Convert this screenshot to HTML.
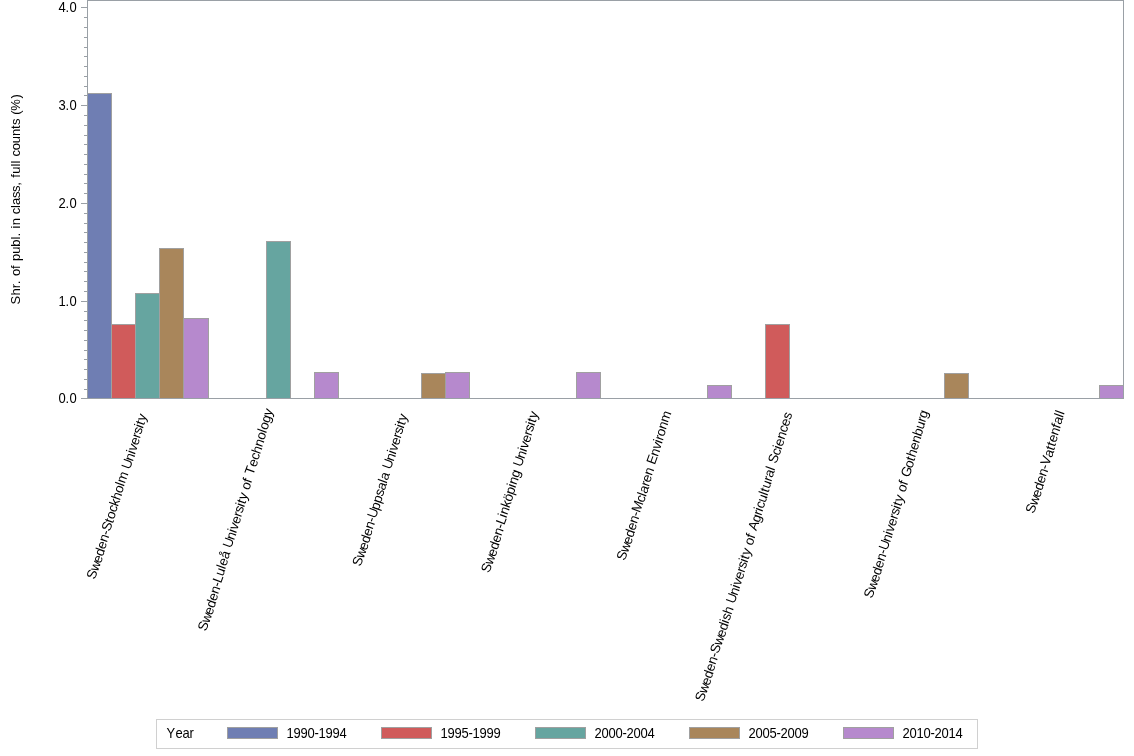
<!DOCTYPE html>
<html><head><meta charset="utf-8"><style>
html,body{margin:0;padding:0;background:#fff;width:1134px;height:756px;overflow:hidden;position:relative}
svg text{font-family:"Liberation Sans",sans-serif;font-size:13px;fill:#000;font-kerning:none}
</style></head><body>
<svg width="1134" height="756" viewBox="0 0 1134 756" style="position:absolute;left:0;top:0;will-change:transform"><rect x="87" y="93" width="25" height="306" fill="#6f7eb3"/><rect x="87" y="93" width="25" height="1" fill="#a0a0a0"/><rect x="87" y="93" width="1" height="306" fill="#a0a0a0"/><rect x="111" y="93" width="1" height="306" fill="#a0a0a0"/><rect x="111" y="324" width="25" height="75" fill="#d05b5b"/><rect x="111" y="324" width="25" height="1" fill="#a0a0a0"/><rect x="111" y="324" width="1" height="75" fill="#a0a0a0"/><rect x="135" y="324" width="1" height="75" fill="#a0a0a0"/><rect x="135" y="293" width="25" height="106" fill="#66a5a0"/><rect x="135" y="293" width="25" height="1" fill="#a0a0a0"/><rect x="135" y="293" width="1" height="106" fill="#a0a0a0"/><rect x="159" y="293" width="1" height="106" fill="#a0a0a0"/><rect x="159" y="248" width="25" height="151" fill="#a9865b"/><rect x="159" y="248" width="25" height="1" fill="#a0a0a0"/><rect x="159" y="248" width="1" height="151" fill="#a0a0a0"/><rect x="183" y="248" width="1" height="151" fill="#a0a0a0"/><rect x="183" y="318" width="26" height="81" fill="#b689cd"/><rect x="183" y="318" width="26" height="1" fill="#a0a0a0"/><rect x="183" y="318" width="1" height="81" fill="#a0a0a0"/><rect x="208" y="318" width="1" height="81" fill="#a0a0a0"/><rect x="266" y="241" width="25" height="158" fill="#66a5a0"/><rect x="266" y="241" width="25" height="1" fill="#a0a0a0"/><rect x="266" y="241" width="1" height="158" fill="#a0a0a0"/><rect x="290" y="241" width="1" height="158" fill="#a0a0a0"/><rect x="314" y="372" width="25" height="27" fill="#b689cd"/><rect x="314" y="372" width="25" height="1" fill="#a0a0a0"/><rect x="314" y="372" width="1" height="27" fill="#a0a0a0"/><rect x="338" y="372" width="1" height="27" fill="#a0a0a0"/><rect x="421" y="373" width="25" height="26" fill="#a9865b"/><rect x="421" y="373" width="25" height="1" fill="#a0a0a0"/><rect x="421" y="373" width="1" height="26" fill="#a0a0a0"/><rect x="445" y="373" width="1" height="26" fill="#a0a0a0"/><rect x="445" y="372" width="25" height="27" fill="#b689cd"/><rect x="445" y="372" width="25" height="1" fill="#a0a0a0"/><rect x="445" y="372" width="1" height="27" fill="#a0a0a0"/><rect x="469" y="372" width="1" height="27" fill="#a0a0a0"/><rect x="576" y="372" width="25" height="27" fill="#b689cd"/><rect x="576" y="372" width="25" height="1" fill="#a0a0a0"/><rect x="576" y="372" width="1" height="27" fill="#a0a0a0"/><rect x="600" y="372" width="1" height="27" fill="#a0a0a0"/><rect x="707" y="385" width="25" height="14" fill="#b689cd"/><rect x="707" y="385" width="25" height="1" fill="#a0a0a0"/><rect x="707" y="385" width="1" height="14" fill="#a0a0a0"/><rect x="731" y="385" width="1" height="14" fill="#a0a0a0"/><rect x="765" y="324" width="25" height="75" fill="#d05b5b"/><rect x="765" y="324" width="25" height="1" fill="#a0a0a0"/><rect x="765" y="324" width="1" height="75" fill="#a0a0a0"/><rect x="789" y="324" width="1" height="75" fill="#a0a0a0"/><rect x="944" y="373" width="25" height="26" fill="#a9865b"/><rect x="944" y="373" width="25" height="1" fill="#a0a0a0"/><rect x="944" y="373" width="1" height="26" fill="#a0a0a0"/><rect x="968" y="373" width="1" height="26" fill="#a0a0a0"/><rect x="1099" y="385" width="25" height="14" fill="#b689cd"/><rect x="1099" y="385" width="25" height="1" fill="#a0a0a0"/><rect x="1099" y="385" width="1" height="14" fill="#a0a0a0"/><rect x="1123" y="385" width="1" height="14" fill="#a0a0a0"/><rect x="87" y="0" width="1037" height="1" fill="#9aa0a6"/><rect x="87" y="0" width="1" height="399" fill="#9aa0a6"/><rect x="1123" y="0" width="1" height="399" fill="#9aa0a6"/><rect x="87" y="398" width="1037" height="1" fill="#9aa0a6"/><rect x="81" y="398" width="6" height="1" fill="#9aa0a6"/><rect x="84" y="389" width="3" height="1" fill="#9aa0a6"/><rect x="84" y="379" width="3" height="1" fill="#9aa0a6"/><rect x="84" y="369" width="3" height="1" fill="#9aa0a6"/><rect x="84" y="359" width="3" height="1" fill="#9aa0a6"/><rect x="84" y="350" width="3" height="1" fill="#9aa0a6"/><rect x="84" y="340" width="3" height="1" fill="#9aa0a6"/><rect x="84" y="330" width="3" height="1" fill="#9aa0a6"/><rect x="84" y="320" width="3" height="1" fill="#9aa0a6"/><rect x="84" y="311" width="3" height="1" fill="#9aa0a6"/><rect x="81" y="301" width="6" height="1" fill="#9aa0a6"/><rect x="84" y="291" width="3" height="1" fill="#9aa0a6"/><rect x="84" y="281" width="3" height="1" fill="#9aa0a6"/><rect x="84" y="271" width="3" height="1" fill="#9aa0a6"/><rect x="84" y="262" width="3" height="1" fill="#9aa0a6"/><rect x="84" y="252" width="3" height="1" fill="#9aa0a6"/><rect x="84" y="242" width="3" height="1" fill="#9aa0a6"/><rect x="84" y="232" width="3" height="1" fill="#9aa0a6"/><rect x="84" y="223" width="3" height="1" fill="#9aa0a6"/><rect x="84" y="213" width="3" height="1" fill="#9aa0a6"/><rect x="81" y="203" width="6" height="1" fill="#9aa0a6"/><rect x="84" y="193" width="3" height="1" fill="#9aa0a6"/><rect x="84" y="183" width="3" height="1" fill="#9aa0a6"/><rect x="84" y="174" width="3" height="1" fill="#9aa0a6"/><rect x="84" y="164" width="3" height="1" fill="#9aa0a6"/><rect x="84" y="154" width="3" height="1" fill="#9aa0a6"/><rect x="84" y="144" width="3" height="1" fill="#9aa0a6"/><rect x="84" y="135" width="3" height="1" fill="#9aa0a6"/><rect x="84" y="125" width="3" height="1" fill="#9aa0a6"/><rect x="84" y="115" width="3" height="1" fill="#9aa0a6"/><rect x="81" y="105" width="6" height="1" fill="#9aa0a6"/><rect x="84" y="95" width="3" height="1" fill="#9aa0a6"/><rect x="84" y="86" width="3" height="1" fill="#9aa0a6"/><rect x="84" y="76" width="3" height="1" fill="#9aa0a6"/><rect x="84" y="66" width="3" height="1" fill="#9aa0a6"/><rect x="84" y="56" width="3" height="1" fill="#9aa0a6"/><rect x="84" y="47" width="3" height="1" fill="#9aa0a6"/><rect x="84" y="37" width="3" height="1" fill="#9aa0a6"/><rect x="84" y="27" width="3" height="1" fill="#9aa0a6"/><rect x="84" y="17" width="3" height="1" fill="#9aa0a6"/><rect x="81" y="7" width="6" height="1" fill="#9aa0a6"/><g transform="translate(0,403) scale(1,1.1)"><text x="58.5 65.5 69.5" y="0">0.0</text></g><g transform="translate(0,306) scale(1,1.1)"><text x="58.5 65.5 69.5" y="0">1.0</text></g><g transform="translate(0,208) scale(1,1.1)"><text x="58.5 65.5 69.5" y="0">2.0</text></g><g transform="translate(0,110) scale(1,1.1)"><text x="58.5 65.5 69.5" y="0">3.0</text></g><g transform="translate(0,12) scale(1,1.1)"><text x="58.5 65.5 69.5" y="0">4.0</text></g><g transform="translate(20,199.5) rotate(-90)"><text x="-105.015 -95.8829 -88.7805 -84.722 -80.6634 -76.6049 -69.5024 -65.4439 -61.3854 -54.2829 -47.1805 -40.078 -37.0341 -32.9756 -28.9171 -25.8732 -18.7707 -14.7122 -8.62439 -5.58049 1.52195 7.60976 13.6976 17.7561 21.8146 25.8732 32.9756 36.0195 39.0634 43.122 49.2098 56.3122 63.4146 70.5171 74.5756 80.6634 84.722 88.7805 100.956" y="0">Shr. of publ. in class, full counts (%)</text></g><text x="94.80 97.80 100.80 102.80 104.80 106.80 108.80 109.80 112.80 113.80 115.80 117.80 119.80 121.80 123.80 124.80 128.80 129.80 132.80 134.80 135.80 137.80 139.80 140.80 142.80 143.80 144.80" y="580.09 572.09 564.09 557.09 550.09 543.09 536.09 532.09 524.09 520.09 513.09 507.09 501.09 494.09 487.09 484.09 474.09 470.09 462.09 455.09 452.09 446.09 439.09 435.09 429.09 426.09 422.09" rotate="-70 -70 -70 -70 -70 -70 -70 -70 -70 -70 -70 -70 -70 -70 -70 -70 -70 -70 -70 -70 -70 -70 -70 -70 -70 -70 -70" style="font-size:13.5px">Sweden-Stockholm University</text><text x="205.99 208.99 211.99 213.99 215.99 217.99 219.99 220.99 222.99 224.99 225.99 227.99 229.99 230.99 233.99 235.99 236.99 238.99 240.99 241.99 243.99 244.99 245.99 247.99 248.99 250.99 251.99 252.99 255.99 257.99 259.99 261.99 263.99 265.99 266.99 268.99 270.99" y="631.77 623.77 615.77 608.77 601.77 594.77 587.77 583.77 576.77 569.77 566.77 559.77 552.77 548.77 540.77 533.77 530.77 524.77 517.77 513.77 507.77 504.77 500.77 494.77 490.77 483.77 479.77 475.77 467.77 460.77 454.77 447.77 440.77 433.77 430.77 423.77 416.77" rotate="-70 -70 -70 -70 -70 -70 -70 -70 -70 -70 -70 -70 -70 -70 -70 -70 -70 -70 -70 -70 -70 -70 -70 -70 -70 -70 -70 -70 -70 -70 -70 -70 -70 -70 -70 -70 -70" style="font-size:13.5px">Sweden-Luleå University of Technology</text><text x="360.59 363.59 366.59 368.59 370.59 372.59 374.59 375.59 378.59 380.59 382.59 384.59 386.59 387.59 389.59 390.59 393.59 395.59 396.59 398.59 400.59 401.59 403.59 404.59 405.59" y="566.93 558.93 550.93 543.93 536.93 529.93 522.93 518.93 510.93 503.93 496.93 490.93 483.93 480.93 473.93 469.93 461.93 454.93 451.93 445.93 438.93 434.93 428.93 425.93 421.93" rotate="-70 -70 -70 -70 -70 -70 -70 -70 -70 -70 -70 -70 -70 -70 -70 -70 -70 -70 -70 -70 -70 -70 -70 -70 -70" style="font-size:13.5px">Sweden-Uppsala University</text><text x="489.20 492.20 495.20 497.20 499.20 501.20 503.20 504.20 506.20 507.20 509.20 511.20 513.20 515.20 516.20 518.20 520.20 521.20 524.20 526.20 527.20 529.20 531.20 532.20 534.20 535.20 536.20" y="573.51 565.51 557.51 550.51 543.51 536.51 529.51 525.51 518.51 515.51 508.51 502.51 495.51 488.51 485.51 478.51 471.51 467.51 459.51 452.51 449.51 443.51 436.51 432.51 426.51 423.51 419.51" rotate="-70 -70 -70 -70 -70 -70 -70 -70 -70 -70 -70 -70 -70 -70 -70 -70 -70 -70 -70 -70 -70 -70 -70 -70 -70 -70 -70" style="font-size:13.5px">Sweden-Linköping University</text><text x="624.64 627.64 630.64 632.64 634.64 636.64 638.64 639.64 643.64 645.64 646.64 648.64 649.64 651.64 653.64 654.64 657.64 659.64 661.64 662.64 663.64 665.64 667.64" y="561.29 553.29 545.29 538.29 531.29 524.29 517.29 513.29 503.29 497.29 494.29 487.29 483.29 476.29 469.29 465.29 457.29 450.29 444.29 441.29 437.29 430.29 423.29" rotate="-70 -70 -70 -70 -70 -70 -70 -70 -70 -70 -70 -70 -70 -70 -70 -70 -70 -70 -70 -70 -70 -70 -70" style="font-size:13.5px">Sweden-Mclaren Environm</text><text x="703.34 706.34 709.34 711.34 713.34 715.34 717.34 718.34 721.34 724.34 726.34 728.34 729.34 731.34 733.34 734.34 737.34 739.34 740.34 742.34 744.34 745.34 747.34 748.34 749.34 751.34 752.34 754.34 755.34 756.34 759.34 761.34 762.34 763.34 765.34 767.34 768.34 769.34 771.34 772.34 774.34 775.34 776.34 779.34 781.34 782.34 784.34 786.34 788.34 790.34" y="702.25 694.25 686.25 679.25 672.25 665.25 658.25 654.25 646.25 638.25 631.25 624.25 621.25 615.25 608.25 604.25 596.25 589.25 586.25 580.25 573.25 569.25 563.25 560.25 556.25 550.25 546.25 539.25 535.25 531.25 523.25 516.25 512.25 509.25 503.25 496.25 493.25 489.25 482.25 478.25 471.25 468.25 464.25 456.25 450.25 447.25 440.25 433.25 427.25 420.25" rotate="-70 -70 -70 -70 -70 -70 -70 -70 -70 -70 -70 -70 -70 -70 -70 -70 -70 -70 -70 -70 -70 -70 -70 -70 -70 -70 -70 -70 -70 -70 -70 -70 -70 -70 -70 -70 -70 -70 -70 -70 -70 -70 -70 -70 -70 -70 -70 -70 -70 -70" style="font-size:13.5px">Sweden-Swedish University of Agricultural Sciences</text><text x="871.96 874.96 877.96 879.96 881.96 883.96 885.96 886.96 889.96 891.96 892.96 894.96 896.96 897.96 899.96 900.96 901.96 903.96 904.96 906.96 907.96 908.96 911.96 913.96 914.96 916.96 918.96 920.96 922.96 924.96 925.96" y="598.88 590.88 582.88 575.88 568.88 561.88 554.88 550.88 542.88 535.88 532.88 526.88 519.88 515.88 509.88 506.88 502.88 496.88 492.88 485.88 481.88 477.88 468.88 461.88 457.88 450.88 443.88 436.88 429.88 422.88 418.88" rotate="-70 -70 -70 -70 -70 -70 -70 -70 -70 -70 -70 -70 -70 -70 -70 -70 -70 -70 -70 -70 -70 -70 -70 -70 -70 -70 -70 -70 -70 -70 -70" style="font-size:13.5px">Sweden-University of Gothenburg</text><text x="1033.75 1036.75 1039.75 1041.75 1043.75 1045.75 1047.75 1048.75 1051.75 1053.75 1054.75 1055.75 1057.75 1059.75 1060.75 1062.75 1063.75" y="514.31 506.31 498.31 491.31 484.31 477.31 470.31 466.31 458.31 451.31 447.31 443.31 436.31 429.31 425.31 418.31 415.31" rotate="-70 -70 -70 -70 -70 -70 -70 -70 -70 -70 -70 -70 -70 -70 -70 -70 -70" style="font-size:13.5px">Sweden-Vattenfall</text><rect x="156.5" y="719.5" width="821" height="29" fill="#fff" stroke="#d0d0d0" stroke-width="1"/><g transform="translate(0,738) scale(1,1.1)"><text x="166.5 175.5 182.5 189.5" y="0">Year</text></g><rect x="227.50" y="727.5" width="50" height="11" fill="#6f7eb3" stroke="#a0a0a0" stroke-width="1"/><g transform="translate(0,738) scale(1,1.1)"><text x="286.5 293.5 300.5 307.5 314.5 318.5 325.5 332.5 339.5" y="0">1990-1994</text></g><rect x="381.50" y="727.5" width="50" height="11" fill="#d05b5b" stroke="#a0a0a0" stroke-width="1"/><g transform="translate(0,738) scale(1,1.1)"><text x="440.5 447.5 454.5 461.5 468.5 472.5 479.5 486.5 493.5" y="0">1995-1999</text></g><rect x="535.50" y="727.5" width="50" height="11" fill="#66a5a0" stroke="#a0a0a0" stroke-width="1"/><g transform="translate(0,738) scale(1,1.1)"><text x="594.5 601.5 608.5 615.5 622.5 626.5 633.5 640.5 647.5" y="0">2000-2004</text></g><rect x="689.50" y="727.5" width="50" height="11" fill="#a9865b" stroke="#a0a0a0" stroke-width="1"/><g transform="translate(0,738) scale(1,1.1)"><text x="748.5 755.5 762.5 769.5 776.5 780.5 787.5 794.5 801.5" y="0">2005-2009</text></g><rect x="843.50" y="727.5" width="50" height="11" fill="#b689cd" stroke="#a0a0a0" stroke-width="1"/><g transform="translate(0,738) scale(1,1.1)"><text x="902.5 909.5 916.5 923.5 930.5 934.5 941.5 948.5 955.5" y="0">2010-2014</text></g></svg>
</body></html>
